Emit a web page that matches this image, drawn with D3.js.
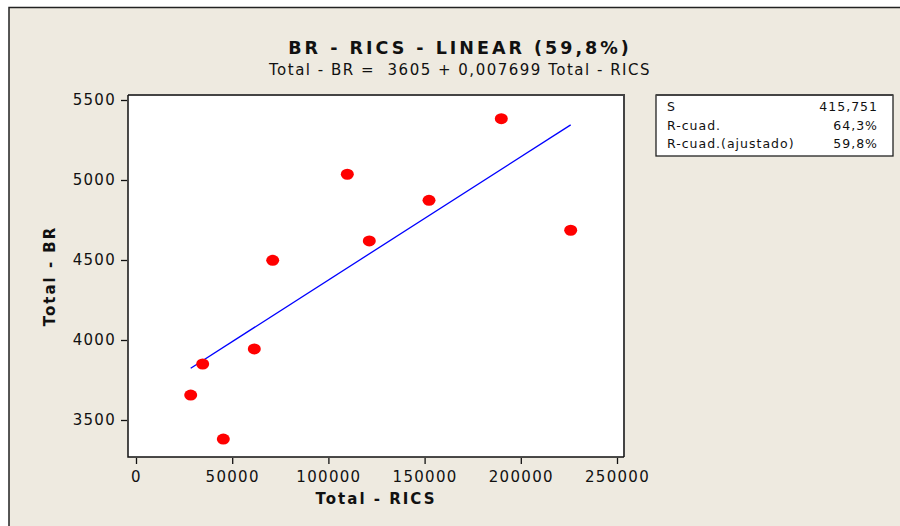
<!DOCTYPE html>
<html lang="es">

<head>
    <meta charset="UTF-8">
    <title>BR - RICS - LINEAR</title>
    <style>
        body {
            margin: 0;
            background: #fff;
            font-family: 'DejaVu Sans', Verdana, sans-serif;
        }

        .tick text {
            font-size: 15px;
            letter-spacing: 1.3px;
            fill: #111;
        }

        .tick line {
            stroke: #111;
            stroke-width: 1.3;
        }

        .axis path {
            display: none;
        }
    </style>
</head>

<body>
    <div id='chart'></div>
</body>

</html>
<script src="https://cdnjs.cloudflare.com/ajax/libs/d3/7.8.5/d3.min.js"></script>
<script>
    // data
    const rics = [28430, 34660, 45380, 61490, 71050, 109830, 121260, 152290, 189870, 225930];
    const br = [3656, 3850, 3381, 3944, 4498, 5036, 4619, 4873, 5383, 4686];
    const xTicks = [0, 50000, 100000, 150000, 200000, 250000];
    const yTicks = [3500, 4000, 4500, 5000, 5500];
    const intercept = 3605;
    const slope = 0.007699;
    const statNames = ['S', 'R-cuad.', 'R-cuad.(ajustado)'];
    const statValues = ['415,751', '64,3%', '59,8%'];

    const W = 900, H = 526;
    const frame = { left: 128, top: 95, right: 624, bottom: 457 };

    const svg = d3.select('#chart').append('svg')
        .attr('width', W)
        .attr('height', H);

    // panel background + outer border
    svg.append('rect')
        .attr('x', 9).attr('y', 7)
        .attr('width', W - 9).attr('height', H - 7)
        .attr('fill', '#eeeae0');
    svg.append('path')
        .attr('d', 'M9,' + H + 'V7.5H' + W)
        .attr('fill', 'none')
        .attr('stroke', '#222')
        .attr('stroke-width', 1.5);

    // scales (calibrated so ticks fall where they do in the picture)
    const x = d3.scaleLinear().domain([0, 250000]).range([136, 617]);
    const y = d3.scaleLinear().domain([3500, 5500]).range([420, 100]);

    // plot area
    svg.append('rect')
        .attr('x', frame.left).attr('y', frame.top)
        .attr('width', frame.right - frame.left)
        .attr('height', frame.bottom - frame.top)
        .attr('fill', '#fff');
    svg.append('path')
        .attr('d', 'M' + frame.left + ',' + frame.top + 'H' + frame.right + 'V' + frame.bottom)
        .attr('fill', 'none')
        .attr('stroke', '#444')
        .attr('stroke-width', 2);
    svg.append('path')
        .attr('d', 'M' + frame.left + ',' + frame.top + 'V' + frame.bottom + 'H' + frame.right)
        .attr('fill', 'none')
        .attr('stroke', '#111')
        .attr('stroke-width', 1.5);

    // axes
    svg.append('g')
        .attr('class', 'axis')
        .attr('transform', 'translate(0,' + (frame.bottom + 1) + ')')
        .call(d3.axisBottom(x).tickValues(xTicks).tickSize(6).tickPadding(7).tickFormat(d3.format('d')))
        .attr('font-family', null).attr('font-size', null);

    svg.append('g')
        .attr('class', 'axis')
        .attr('transform', 'translate(' + (frame.left - 1) + ',0)')
        .call(d3.axisLeft(y).tickValues(yTicks).tickSize(6).tickPadding(5).tickFormat(d3.format('d')))
        .attr('font-family', null).attr('font-size', null);

    // regression line
    const xMin = d3.min(rics), xMax = d3.max(rics);
    svg.append('line')
        .attr('x1', x(xMin)).attr('y1', y(intercept + slope * xMin))
        .attr('x2', x(xMax)).attr('y2', y(intercept + slope * xMax))
        .attr('stroke', '#0000ff')
        .attr('stroke-width', 1.3);

    // points
    svg.append('g').selectAll('ellipse')
        .data(rics.map((r, i) => ({ r: r, b: br[i] })))
        .enter().append('ellipse')
        .attr('cx', d => x(d.r))
        .attr('cy', d => y(d.b))
        .attr('rx', 6.5)
        .attr('ry', 5.5)
        .attr('fill', '#ff0000');

    // titles
    svg.append('text')
        .attr('x', 460).attr('y', 54)
        .attr('text-anchor', 'middle')
        .attr('font-size', 17.5)
        .attr('font-weight', 'bold')
        .attr('letter-spacing', 3)
        .attr('fill', '#111')
        .text('BR - RICS - LINEAR (59,8%)');

    svg.append('text')
        .attr('x', 460).attr('y', 75)
        .attr('text-anchor', 'middle')
        .attr('font-size', 15)
        .attr('letter-spacing', 1.5)
        .attr('fill', '#111')
        .attr('xml:space', 'preserve')
        .style('white-space', 'pre')
        .text('Total - BR =  3605 + 0,007699 Total - RICS');

    // axis titles
    svg.append('text')
        .attr('x', 376).attr('y', 504)
        .attr('text-anchor', 'middle')
        .attr('font-size', 15)
        .attr('font-weight', 'bold')
        .attr('letter-spacing', 2)
        .attr('fill', '#111')
        .text('Total - RICS');

    svg.append('text')
        .attr('transform', 'translate(55,276) rotate(-90)')
        .attr('text-anchor', 'middle')
        .attr('font-size', 15)
        .attr('font-weight', 'bold')
        .attr('letter-spacing', 2)
        .attr('fill', '#111')
        .text('Total - BR');

    // stats box
    const box = { x: 656, y: 95, w: 237, h: 61 };
    svg.append('rect')
        .attr('x', box.x).attr('y', box.y)
        .attr('width', box.w).attr('height', box.h)
        .attr('fill', '#fff')
        .attr('stroke', '#222')
        .attr('stroke-width', 1.3);
    svg.append('line')
        .attr('x1', box.x).attr('y1', box.y)
        .attr('x2', box.x + box.w).attr('y2', box.y)
        .attr('stroke', '#444').attr('stroke-width', 2);

    const rows = svg.append('g').selectAll('g')
        .data(statNames)
        .enter().append('g');
    rows.append('text')
        .attr('x', 667)
        .attr('y', (d, i) => 111 + i * 18.5)
        .attr('font-size', 12.5)
        .attr('letter-spacing', 1)
        .attr('fill', '#111')
        .text(d => d);
    rows.append('text')
        .attr('x', 878)
        .attr('y', (d, i) => 111 + i * 18.5)
        .attr('text-anchor', 'end')
        .attr('font-size', 12.5)
        .attr('letter-spacing', 1)
        .attr('fill', '#111')
        .text((d, i) => statValues[i]);
</script>
